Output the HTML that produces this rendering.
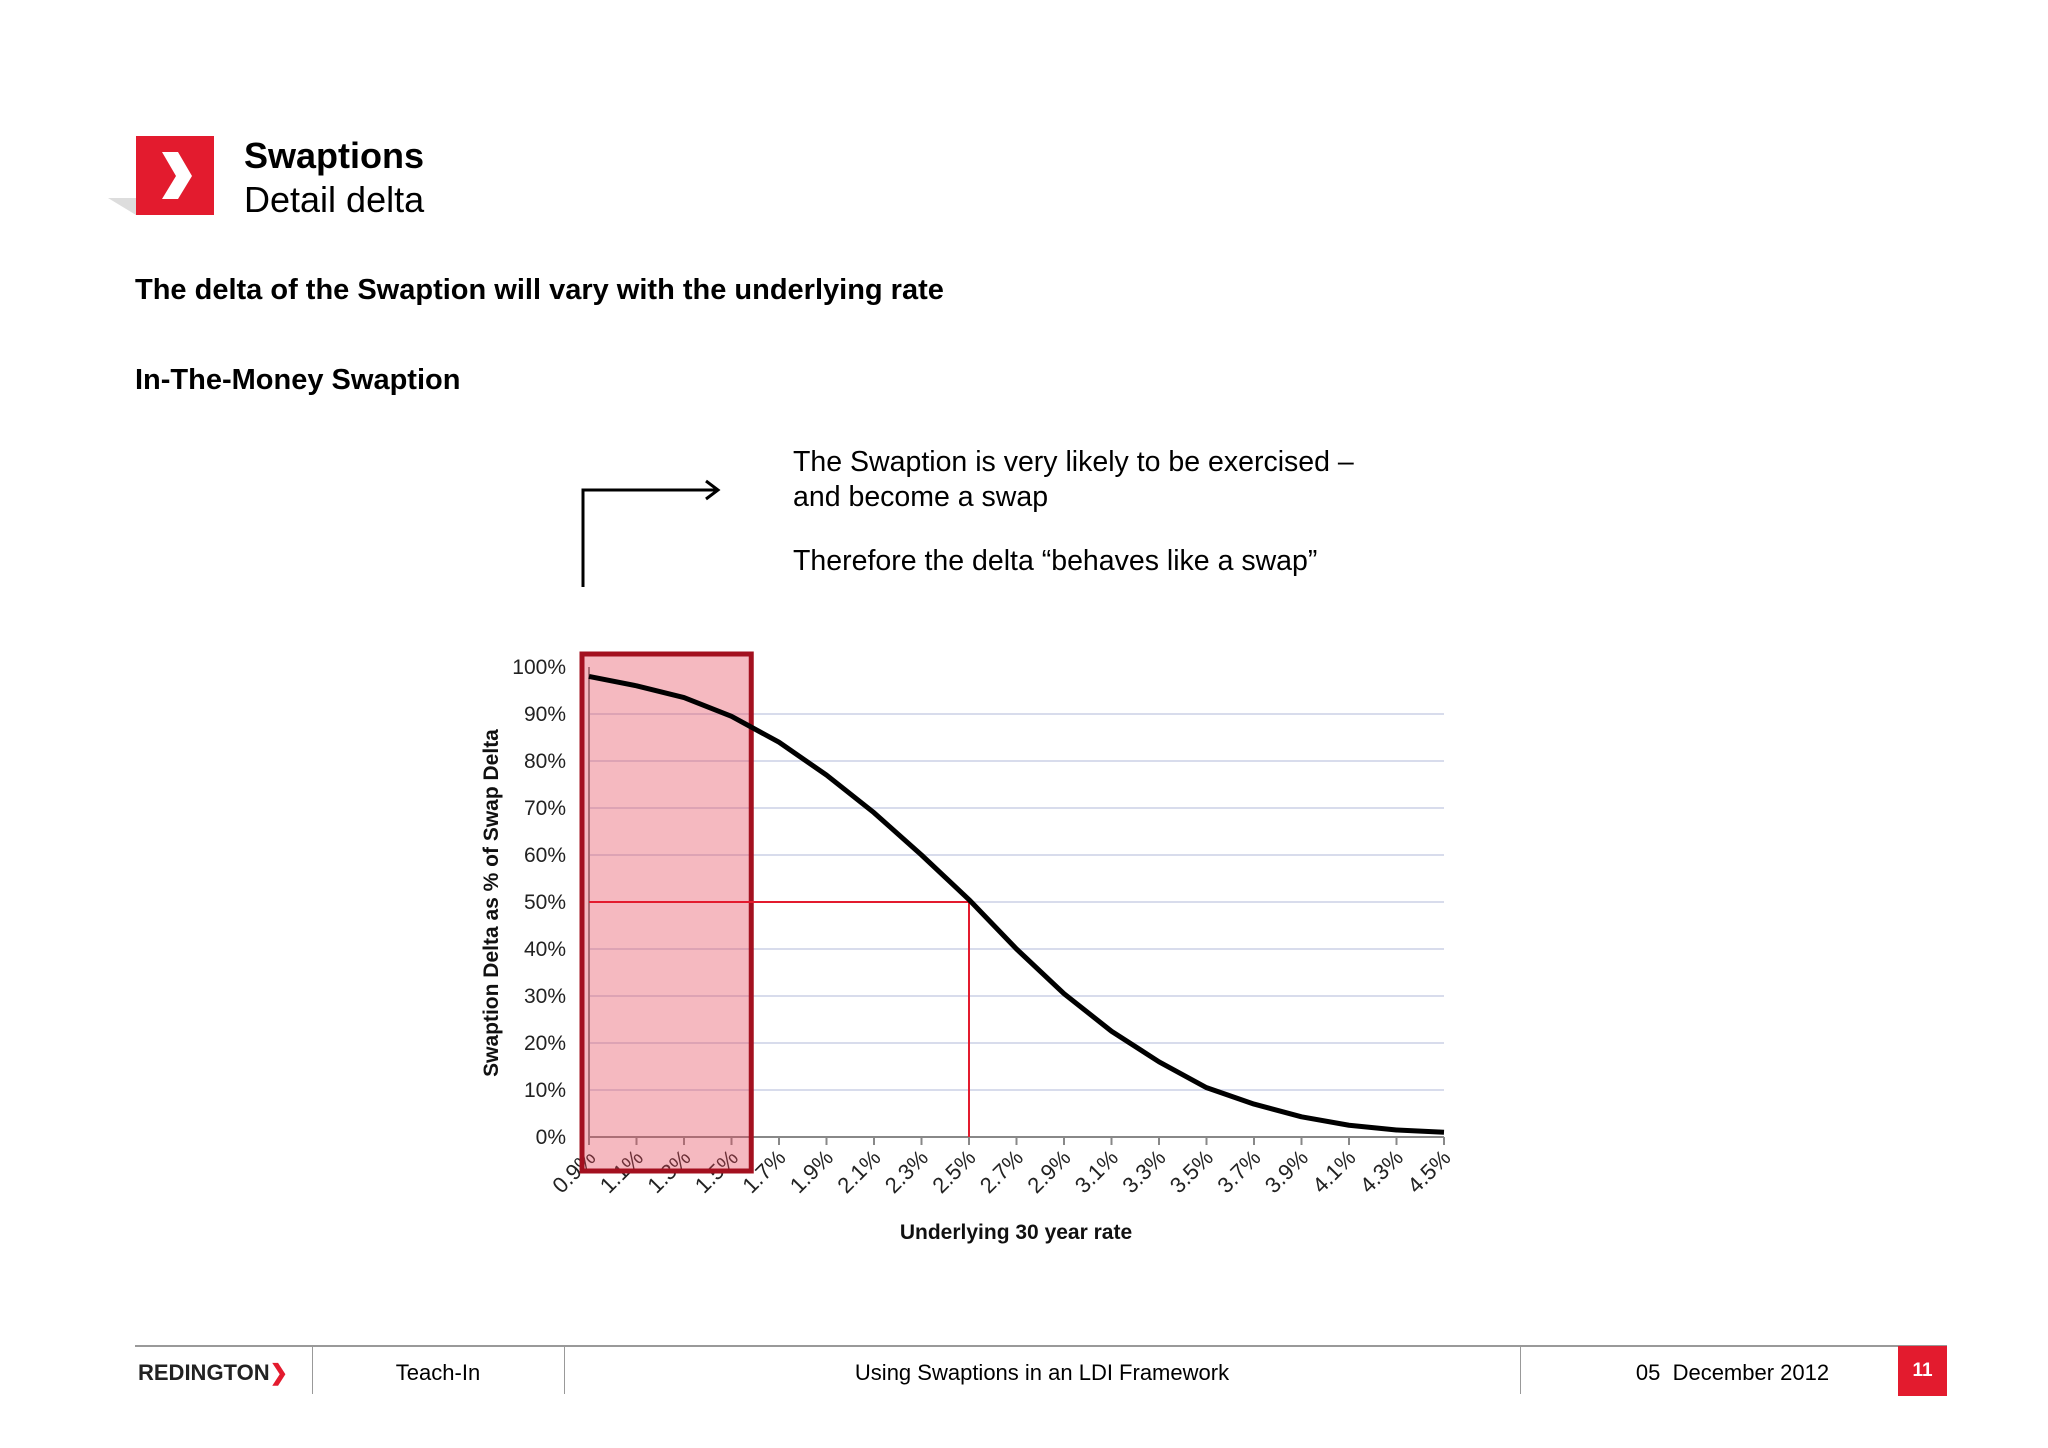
<!DOCTYPE html>
<html><head><meta charset="utf-8"><style>
body{margin:0;width:2048px;height:1448px;background:#fff;font-family:"Liberation Sans",sans-serif;position:relative;overflow:hidden}
.a{position:absolute;white-space:nowrap}
</style></head><body>
<div class="a" style="left:136px;top:136px;width:78px;height:79px;background:#e31b2e"></div>
<div class="a" style="left:108px;top:198px;width:0;height:0;border-right:28px solid #ddd;border-bottom:17px solid transparent"></div>
<svg class="a" style="left:136px;top:136px" width="78" height="79"><polygon points="26,16 42,16 56,40 42,63 26,63 40,40" fill="#fff"/></svg>
<div class="a" style="left:244px;top:135px;font-size:36px;font-weight:bold">Swaptions</div>
<div class="a" style="left:244px;top:179px;font-size:36px">Detail delta</div>
<div class="a" style="left:135px;top:274px;font-size:29px;font-weight:bold">The delta of the Swaption will vary with the underlying rate</div>
<div class="a" style="left:135px;top:364px;font-size:29px;font-weight:bold">In-The-Money Swaption</div>
<div class="a" style="left:793px;top:445px;font-size:28.5px;line-height:35px">The Swaption is very likely to be exercised –<br>and become a swap</div>
<div class="a" style="left:793px;top:545px;font-size:28.5px">Therefore the delta “behaves like a swap”</div>
<svg class="a" style="left:570px;top:470px" width="160" height="130"><path d="M13,117 V20 H148" fill="none" stroke="#000" stroke-width="3"/><path d="M136,11 L148,20 L136,29" fill="none" stroke="#000" stroke-width="3"/></svg>

<svg id="chart" class="a" style="left:0;top:0" width="2048" height="1448"></svg>

<div class="a" style="left:135px;top:1345px;width:1812px;height:2px;background:#999"></div>
<div class="a" style="left:138px;top:1360px;font-size:22px;font-weight:bold;color:#222">REDINGTON<span style="color:#e31b2e">❯</span></div>
<div class="a" style="left:312px;top:1345px;width:1px;height:49px;background:#999"></div>
<div class="a" style="left:564px;top:1345px;width:1px;height:49px;background:#999"></div>
<div class="a" style="left:1520px;top:1345px;width:1px;height:49px;background:#999"></div>
<div class="a" style="left:312px;width:252px;text-align:center;top:1360px;font-size:22px">Teach-In</div>
<div class="a" style="left:564px;width:956px;text-align:center;top:1360px;font-size:22px">Using Swaptions in an LDI Framework</div>
<div class="a" style="left:1560px;width:345px;text-align:center;top:1360px;font-size:22px">05&nbsp; December 2012</div>
<div class="a" style="left:1898px;top:1346px;width:49px;height:50px;background:#e31b2e;color:#fff;font-size:19px;font-weight:bold;text-align:center;line-height:50px">11</div>

<script>
const categories=["0.9%","1.1%","1.3%","1.5%","1.7%","1.9%","2.1%","2.3%","2.5%","2.7%","2.9%","3.1%","3.3%","3.5%","3.7%","3.9%","4.1%","4.3%","4.5%"];
const deltaValues=[98,96,93.5,89.5,84,77,69,60,50.5,40,30.5,22.5,16,10.5,7,4.3,2.5,1.5,1];
const yTicks=[0,10,20,30,40,50,60,70,80,90,100];
const highlightRange=[0,3.5];
const marker=[8,50];
const NS="http://www.w3.org/2000/svg";
const svg=document.getElementById('chart');
const X0=589,X1=1444,Y0=1137,Y1=667;
const xs=i=>X0+(X1-X0)*i/(categories.length-1);
const ys=v=>Y0-(Y0-Y1)*v/100;
function mk(t,a,p){const e=document.createElementNS(NS,t);for(const k in a)e.setAttribute(k,a[k]);(p||svg).appendChild(e);return e;}
yTicks.forEach(v=>{
  if(v>0&&v<100){const g=mk('line',{x1:X0,x2:X1,y1:ys(v),y2:ys(v),stroke:'#d8dcec','stroke-width':2});
  
  }
  const t=mk('text',{x:566,y:ys(v)+7,'text-anchor':'end','font-size':21,'font-family':'Liberation Sans, sans-serif',fill:'#222'});
  t.textContent=v+'%';
  
  
});
const ax=mk('line',{x1:X0,x2:X1,y1:Y0,y2:Y0,stroke:'#888','stroke-width':2});


const ay=mk('line',{x1:X0,x2:X0,y1:Y1,y2:Y0,stroke:'#888','stroke-width':2});


categories.forEach((c,i)=>{
  const tk=mk('line',{x1:xs(i),x2:xs(i),y1:Y0,y2:Y0+8,stroke:'#888','stroke-width':2});
  
  
  const t=mk('text',{x:xs(i)+8,y:Y0+22,'text-anchor':'end','font-size':22,'font-family':'Liberation Sans, sans-serif',fill:'#222',transform:`rotate(-45 ${xs(i)+8} ${Y0+22})`});
  t.textContent=c;
  
  
});
const hx0=xs(highlightRange[0])-7,hx1=xs(highlightRange[1])-4;
const hl=mk('rect',{x:hx0,y:654,width:hx1-hx0,height:517,fill:'rgba(230,70,90,0.38)',stroke:'#a3101f','stroke-width':5});


const mh=mk('line',{x1:X0,x2:xs(marker[0]),y1:ys(marker[1]),y2:ys(marker[1]),stroke:'#e31b2e','stroke-width':2});


const mv=mk('line',{x1:xs(marker[0]),x2:xs(marker[0]),y1:ys(marker[1])-5,y2:Y0,stroke:'#e31b2e','stroke-width':2});


const ln=mk('polyline',{points:deltaValues.map((v,i)=>xs(i)+','+ys(v)).join(' '),fill:'none',stroke:'#000','stroke-width':5,'stroke-linejoin':'round'});


const yl=mk('text',{x:498,y:903,'text-anchor':'middle','font-size':21,'font-weight':'bold','font-family':'Liberation Sans, sans-serif',fill:'#111',transform:'rotate(-90 498 903)'});
yl.textContent='Swaption Delta as % of Swap Delta';


const xl=mk('text',{x:1016,y:1239,'text-anchor':'middle','font-size':21,'font-weight':'bold','font-family':'Liberation Sans, sans-serif',fill:'#111'});
xl.textContent='Underlying 30 year rate';


</script>
</body></html>
